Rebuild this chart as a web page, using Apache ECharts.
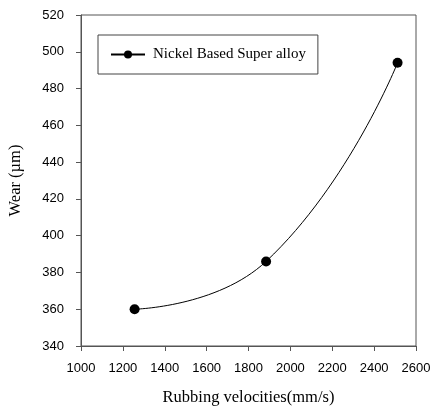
<!DOCTYPE html>
<html>
<head>
<meta charset="utf-8">
<script src="https://cdn.jsdelivr.net/npm/echarts@6/dist/echarts.min.js"></script>
<style>
  html, body { margin: 0; padding: 0; background: #fff; }
  #chart { width: 431px; height: 412px; }
</style>
</head>
<body>
<div id="chart"></div>
<script>
// Wear versus rubbing velocity for a nickel based super alloy
const seriesName = 'Nickel Based Super alloy';
const velocities = [1256, 1884, 2512];   // mm/s
const wear = [360, 386, 494];            // µm

const xTicks = { min: 1000, max: 2600, interval: 200 };
const yTicks = { min: 340, max: 520, interval: 20 };

const axisColor = '#555';
const serif = '"Liberation Serif", "Times New Roman", serif';
const sans = '"Liberation Sans", Arial, sans-serif';

const chart = echarts.init(document.getElementById('chart'), null, { renderer: 'canvas' });

chart.setOption({
  animation: false,
  backgroundColor: '#fff',
  grid: {
    left: 81, top: 15, right: 15, bottom: 66,
    outerBoundsMode: 'none',
    containLabel: false,
    show: true,
    borderColor: axisColor,
    borderWidth: 1
  },
  legend: {
    left: 98, top: 35,
    data: [seriesName],
    orient: 'horizontal',
    borderColor: '#444',
    borderWidth: 1,
    padding: [12, 12, 12, 12],
    itemWidth: 34,
    itemHeight: 10,
    textStyle: { fontFamily: serif, fontSize: 15, color: '#000', padding: [0, 0, 0, 3] }
  },
  xAxis: {
    type: 'value',
    min: xTicks.min, max: xTicks.max, interval: xTicks.interval,
    name: 'Rubbing velocities(mm/s)',
    nameLocation: 'middle',
    nameGap: 43,
    nameTextStyle: { fontFamily: serif, fontSize: 16.5, color: '#000' },
    axisLine: { show: true, lineStyle: { color: axisColor, width: 1 } },
    axisTick: { show: true, inside: false, length: 5, lineStyle: { color: axisColor } },
    axisLabel: { margin: 16, fontFamily: sans, fontSize: 13, color: '#000', formatter: v => String(v) },
    splitLine: { show: false }
  },
  yAxis: {
    type: 'value',
    min: yTicks.min, max: yTicks.max, interval: yTicks.interval,
    name: 'Wear (µm)',
    nameLocation: 'middle',
    nameGap: 57,
    nameTextStyle: { fontFamily: serif, fontSize: 16.5, color: '#000' },
    axisLine: { show: true, lineStyle: { color: axisColor, width: 1 } },
    axisTick: { show: true, inside: false, length: 5, lineStyle: { color: axisColor } },
    axisLabel: { margin: 17, fontFamily: sans, fontSize: 13, color: '#000', formatter: v => String(v) },
    splitLine: { show: false }
  },
  series: [{
    name: seriesName,
    type: 'line',
    data: velocities.map((v, i) => [v, wear[i]]),
    smooth: 0.5,
    symbol: 'circle',
    symbolSize: 10,
    showSymbol: true,
    itemStyle: { color: '#000' },
    lineStyle: { color: '#000', width: 1 }
  }]
});
</script>
</body>
</html>
